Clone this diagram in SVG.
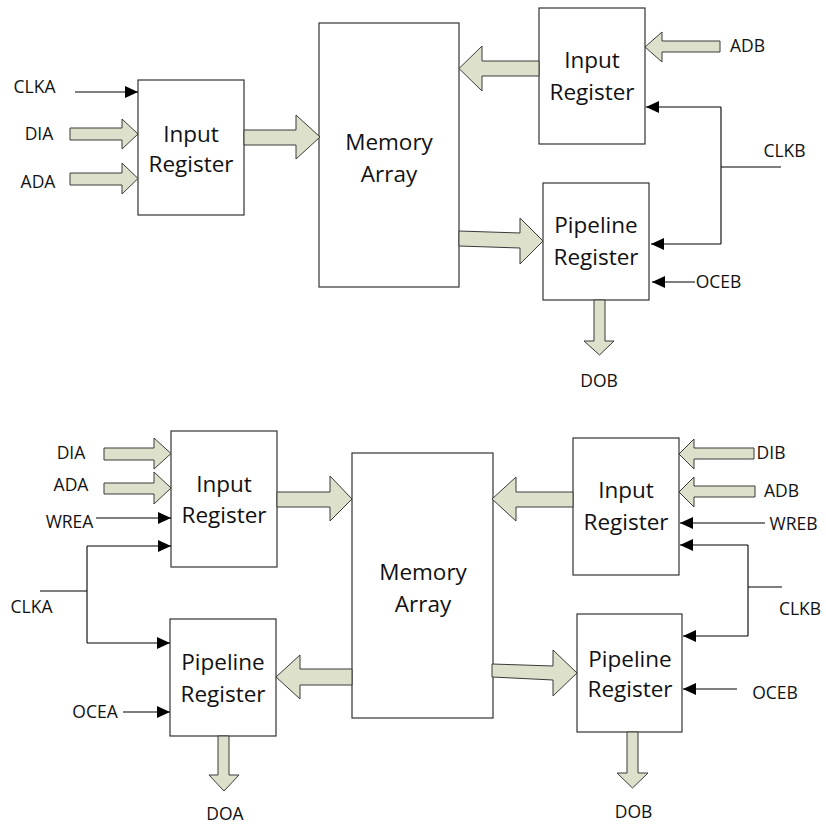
<svg xmlns="http://www.w3.org/2000/svg" width="826" height="825" viewBox="0 0 826 825">
<style>
.box{fill:#fff;stroke:#333;stroke-width:1.2}
.bus{fill:#dde0cb;stroke:#3a3a3a;stroke-width:1}
.sig{fill:none;stroke:#000;stroke-width:1.1}
.arr{marker-end:url(#ah)}
.big{font-family:"Open Sans","Noto Sans",sans-serif;font-size:22.5px;fill:#111;text-anchor:middle}
.lbl{font-family:"Open Sans","Noto Sans",sans-serif;font-size:17.5px;fill:#111;text-anchor:middle}
</style>
<defs>
<marker id="ah" markerUnits="userSpaceOnUse" markerWidth="14" markerHeight="13" refX="13" refY="6" orient="auto">
<path d="M0,0 L13,6 L0,12 z" fill="#000"/>
</marker>
</defs>
<rect width="826" height="825" fill="#fff"/>

<!-- ===== TOP DIAGRAM ===== -->
<g id="top-input-a"><rect class="box" x="138" y="80" width="106" height="135"/><text class="big" x="191" y="142">Input</text><text class="big" x="191" y="172">Register</text></g>
<g id="top-memory"><rect class="box" x="319" y="23" width="140" height="264"/><text class="big" x="389" y="150">Memory</text><text class="big" x="389" y="182">Array</text></g>
<g id="top-input-b"><rect class="box" x="539" y="8" width="106" height="136"/><text class="big" x="592" y="68">Input</text><text class="big" x="592" y="100">Register</text></g>
<g id="top-pipeline-b"><rect class="box" x="543" y="183" width="106" height="117"/><text class="big" x="596" y="233">Pipeline</text><text class="big" x="596" y="265">Register</text></g>

<g id="top-labels">
<text class="lbl" x="34.5" y="93">CLKA</text>
<text class="lbl" x="39" y="140">DIA</text>
<text class="lbl" x="38" y="188">ADA</text>
<text class="lbl" x="747.5" y="52">ADB</text>
<text class="lbl" x="784.5" y="157">CLKB</text>
<text class="lbl" x="718.5" y="288">OCEB</text>
<text class="lbl" x="599" y="387">DOB</text>
</g>

<g id="top-connectors">
<polygon class="bus" points="70,128 122,128 122,119 138,134 122,149 122,140 70,140"/>
<polygon class="bus" points="70,173 122,173 122,163 138,178.5 122,194 122,185 70,185"/>
<polygon class="bus" points="244,130 296,130 296,115 320,137 296,159 296,145 244,145"/>
<polygon class="bus" points="539,61 482,61 482,46 459,68.5 482,91 482,76 539,76"/>
<polygon class="bus" points="720,41 662,41 662,32 645,47 662,62 662,52 720,52"/>
<polygon class="bus" points="459,231 520,233 520,218 543,241 520,264 520,248 459,246"/>
<polygon class="bus" points="594,300 605,300 605,341 614,341 599.5,355 584,341 594,341"/>
<line class="sig arr" x1="75" y1="92" x2="138" y2="92"/>
<path class="sig" d="M781,167 H721 M721,107 V244"/>
<line class="sig arr" x1="721" y1="107" x2="646" y2="107"/>
<line class="sig arr" x1="721" y1="244" x2="651" y2="244"/>
<line class="sig arr" x1="695" y1="282" x2="652" y2="282"/>
</g>

<!-- ===== BOTTOM DIAGRAM ===== -->
<g id="bot-input-a"><rect class="box" x="171" y="431" width="106" height="136"/><text class="big" x="224" y="492">Input</text><text class="big" x="224" y="523">Register</text></g>
<g id="bot-pipeline-a"><rect class="box" x="170" y="619" width="106" height="117"/><text class="big" x="223" y="670">Pipeline</text><text class="big" x="223" y="702">Register</text></g>
<g id="bot-memory"><rect class="box" x="352" y="453" width="141" height="265"/><text class="big" x="423" y="580">Memory</text><text class="big" x="423" y="612">Array</text></g>
<g id="bot-input-b"><rect class="box" x="573" y="438" width="106" height="137"/><text class="big" x="626" y="498">Input</text><text class="big" x="626" y="530">Register</text></g>
<g id="bot-pipeline-b"><rect class="box" x="577" y="614" width="105" height="118"/><text class="big" x="630" y="667">Pipeline</text><text class="big" x="630" y="697">Register</text></g>

<g id="bot-labels">
<text class="lbl" x="71" y="459">DIA</text>
<text class="lbl" x="71" y="491">ADA</text>
<text class="lbl" x="69.5" y="528">WREA</text>
<text class="lbl" x="31.5" y="613">CLKA</text>
<text class="lbl" x="95" y="718">OCEA</text>
<text class="lbl" x="225" y="820">DOA</text>
<text class="lbl" x="771" y="459">DIB</text>
<text class="lbl" x="781.5" y="497">ADB</text>
<text class="lbl" x="793.5" y="530">WREB</text>
<text class="lbl" x="800" y="615">CLKB</text>
<text class="lbl" x="775" y="699">OCEB</text>
<text class="lbl" x="633.5" y="818">DOB</text>
</g>

<g id="bot-connectors">
<polygon class="bus" points="104,448 154,448 154,438 171,453.5 154,469 154,460 104,460"/>
<polygon class="bus" points="104,483 154,483 154,472 171,488 154,504 154,494 104,494"/>
<polygon class="bus" points="277,492 330,492 330,476 352,499 330,521 330,507 277,507"/>
<polygon class="bus" points="352,669 300,669 300,655 276,677 300,699 300,685 352,685"/>
<polygon class="bus" points="218,736 229,736 229,775 239,775 224,791 209,775 218,775"/>
<polygon class="bus" points="573,492 516,492 516,477 492,499 516,521 516,507 573,507"/>
<polygon class="bus" points="754,448 694,448 694,439 679,454 694,469 694,459 754,459"/>
<polygon class="bus" points="755,486 694,486 694,477 679,492 694,507 694,497 755,497"/>
<polygon class="bus" points="492,664 553,666 553,650 577,673 553,696 553,680 492,677"/>
<polygon class="bus" points="627,732 638,732 638,773 648,773 632.5,788 617,773 627,773"/>
<line class="sig arr" x1="96" y1="518" x2="171" y2="518"/>
<path class="sig" d="M40,591 H87 M87,546 V643"/>
<line class="sig arr" x1="87" y1="546" x2="171" y2="546"/>
<line class="sig arr" x1="87" y1="643" x2="170" y2="643"/>
<line class="sig arr" x1="123" y1="712" x2="170" y2="712"/>
<line class="sig arr" x1="765" y1="523" x2="680" y2="523"/>
<path class="sig" d="M782,587 H748 M748,545 V636"/>
<line class="sig arr" x1="748" y1="545" x2="680" y2="545"/>
<line class="sig arr" x1="748" y1="636" x2="683" y2="636"/>
<line class="sig arr" x1="737" y1="689" x2="683" y2="689"/>
</g>
</svg>
